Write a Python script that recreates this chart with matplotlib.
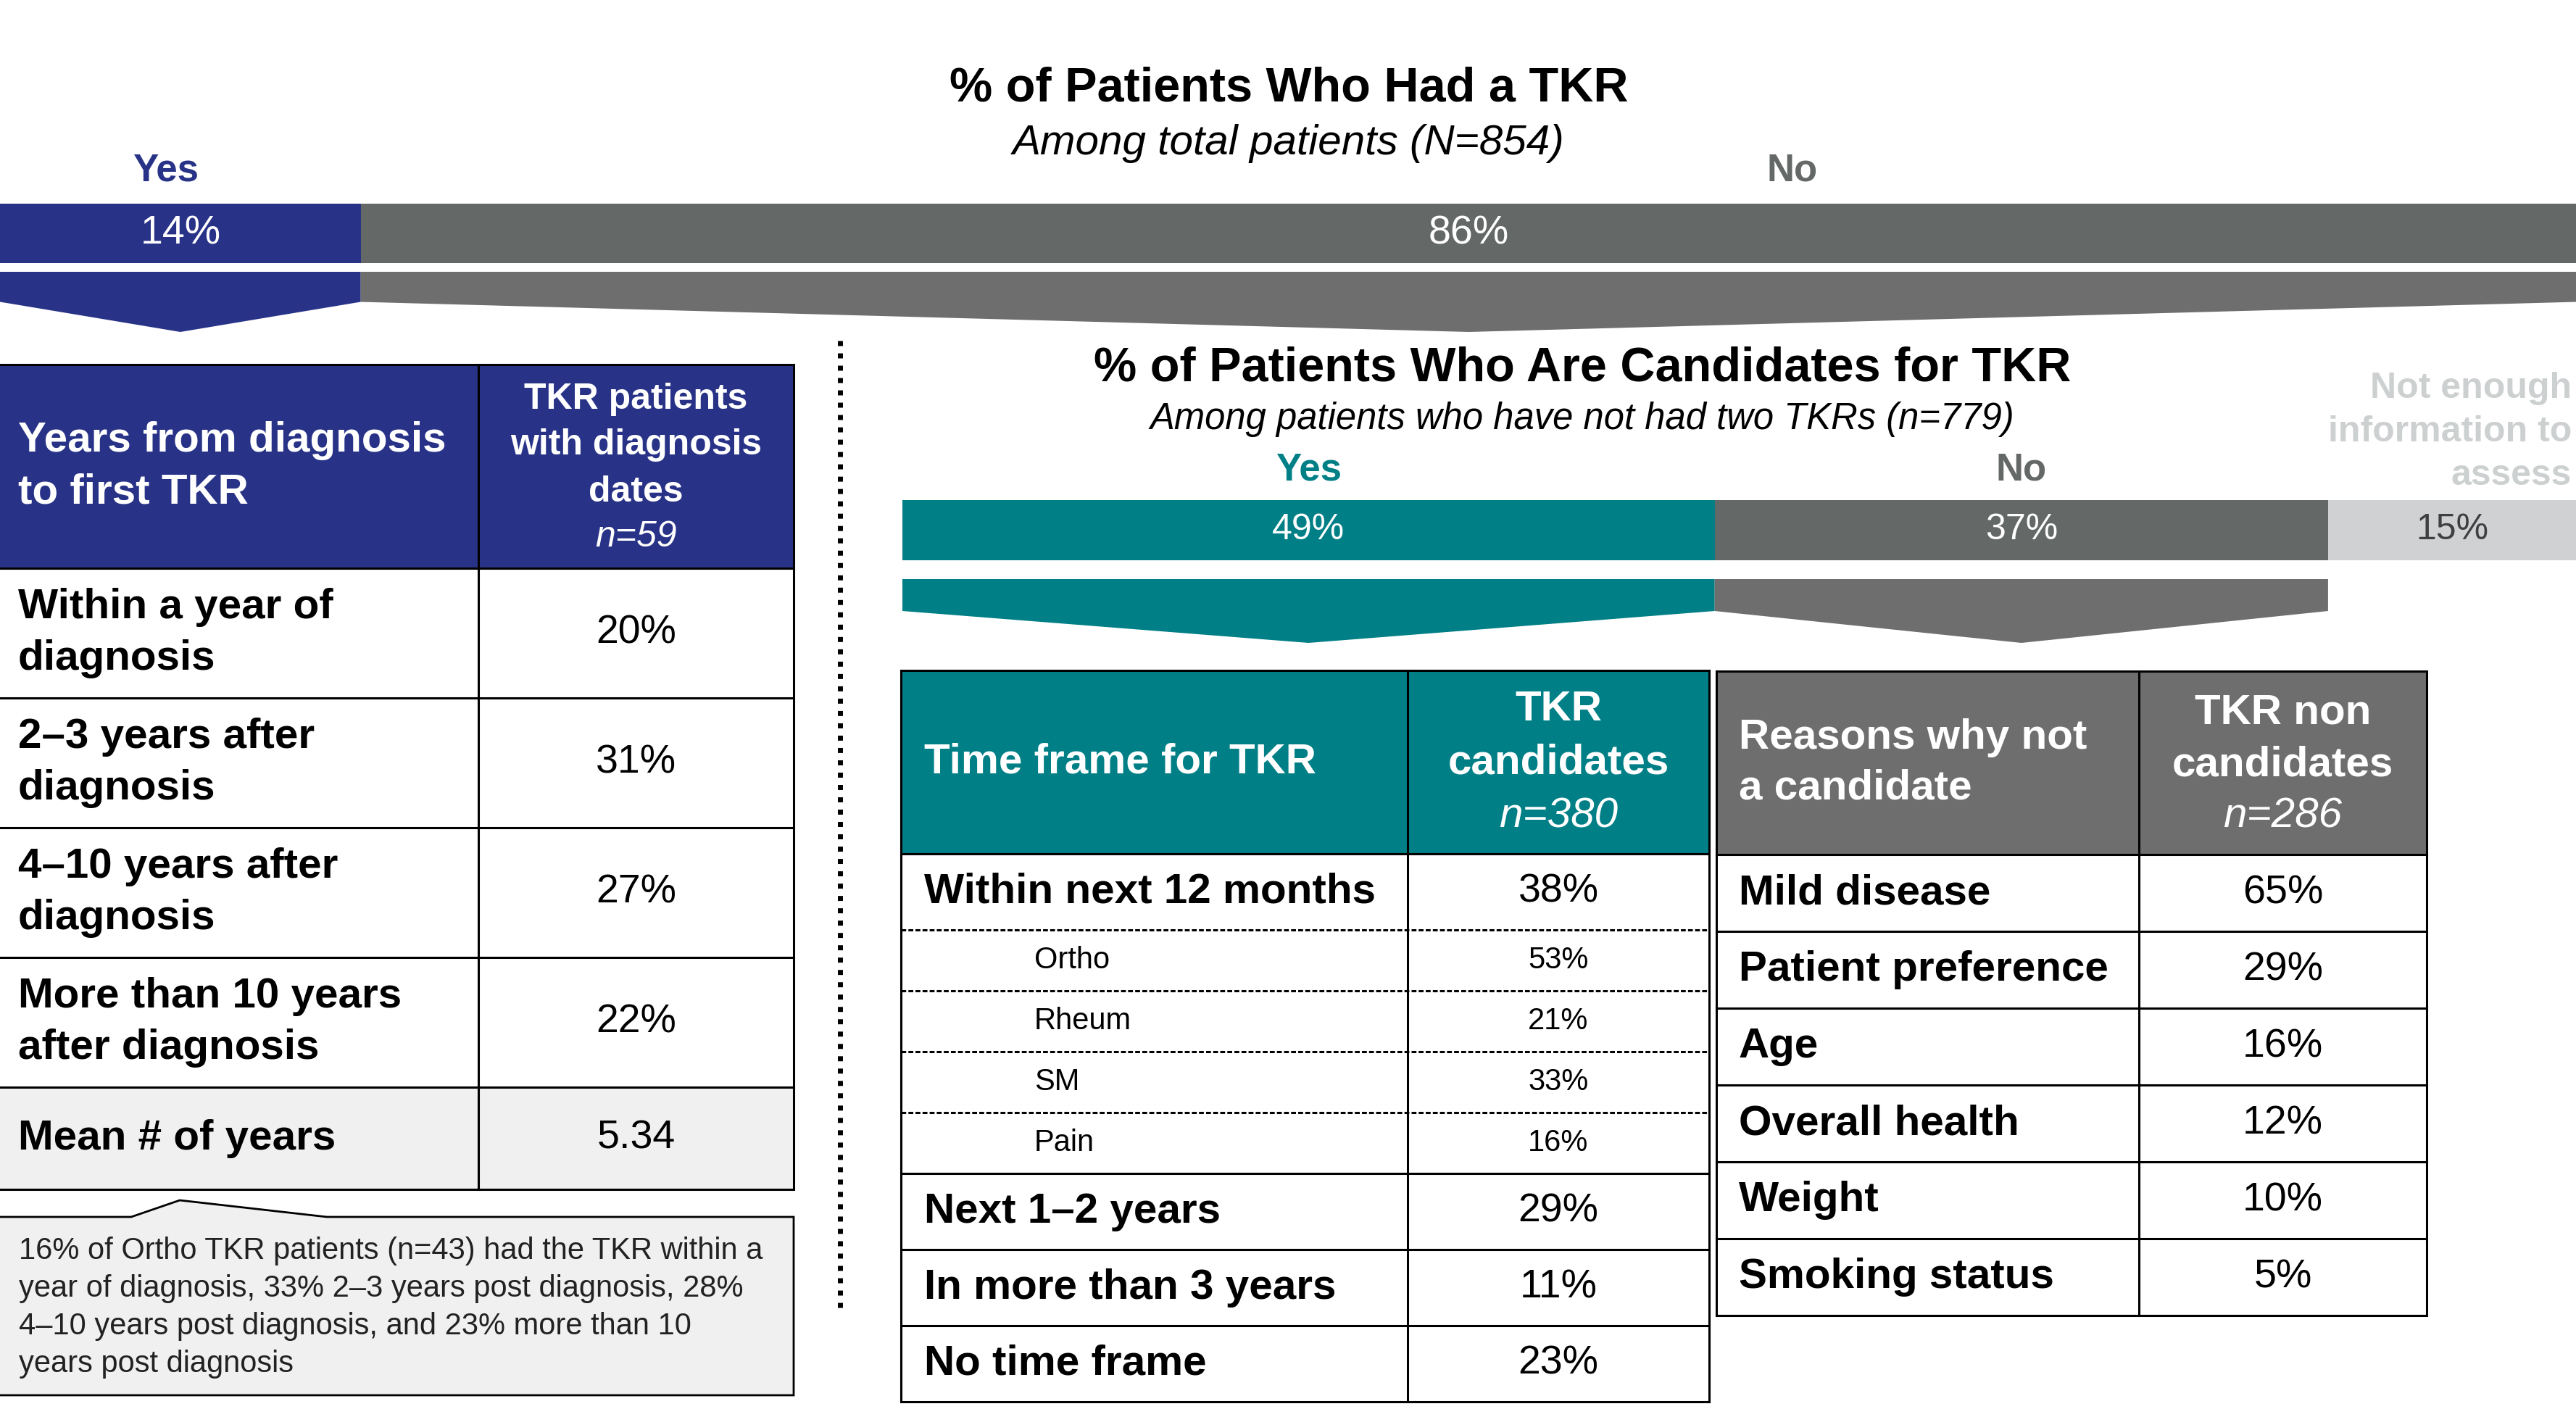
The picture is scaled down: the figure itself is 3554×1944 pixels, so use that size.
import numpy as np
import matplotlib.pyplot as plt
from matplotlib.patches import Rectangle, Polygon

plt.rcParams['font.family'] = ['Liberation Sans', 'DejaVu Sans']

# data
tkr_labels = ['Yes', 'No']
tkr_pct = [14, 86]

cand_labels = ['Yes', 'No', 'Not enough\ninformation to\nassess']
cand_pct = [49, 37, 15]

years_labels = ['Within a year of\ndiagnosis', '2–3 years after\ndiagnosis',
                '4–10 years after\ndiagnosis', 'More than 10 years\nafter diagnosis']
years_pct = [20, 31, 27, 22]
mean_years = 5.34

timeframe_labels = ['Within next 12 months', 'Ortho', 'Rheum', 'SM', 'Pain',
                    'Next 1–2 years', 'In more than 3 years', 'No time frame']
timeframe_pct = [38, 53, 21, 33, 16, 29, 11, 23]
timeframe_sub = [False, True, True, True, True, False, False, False]

reason_labels = ['Mild disease', 'Patient preference', 'Age', 'Overall health',
                 'Weight', 'Smoking status']
reason_pct = [65, 29, 16, 12, 10, 5]

footnote = ('16% of Ortho TKR patients (n=43) had the TKR within a\n'
            'year of diagnosis, 33% 2–3 years post diagnosis, 28%\n'
            '4–10 years post diagnosis, and 23% more than 10\n'
            'years post diagnosis')

NAVY = '#283387'
GRAY = '#646968'
GRAY2 = '#6e6e6e'
TEAL = '#007f86'
LIGHT = '#cfd1d2'
PALE = '#f0f0f0'

W, H = 3555, 1944
fig = plt.figure(figsize=(W / 100, H / 100), dpi=100)
ax = fig.add_axes([0, 0, 1, 1])
ax.set_xlim(0, W)
ax.set_ylim(H, 0)
ax.axis('off')


def px_axes(x0, y0, x1, y1):
    a = fig.add_axes([x0 / W, 1 - y1 / H, (x1 - x0) / W, (y1 - y0) / H])
    a.axis('off')
    return a


def stacked_bar(x0, x1, y0, y1, vals, colors, txt_colors, size):
    a = px_axes(x0, y0, x1, y1)
    lefts = np.cumsum([0] + vals[:-1])
    a.barh(0, vals, left=lefts, height=1, color=colors)
    a.set_xlim(0, sum(vals))
    a.set_ylim(-0.5, 0.5)
    for l, v, tc in zip(lefts, vals, txt_colors):
        a.text(l + v / 2, 0, f'{v}%', ha='center', va='center', color=tc, fontsize=size)
    return a


def chevrons(x0, x1, y0, y1, vals, colors, n):
    a = px_axes(x0, y0, x1, y1)
    lefts = np.cumsum([0] + vals[:-1])
    for i in range(n):
        l, r = lefts[i], lefts[i] + vals[i]
        a.add_patch(Polygon([(l, 0), (r, 0), (r, 0.5), ((l + r) / 2, 1), (l, 0.5)],
                            closed=True, facecolor=colors[i], edgecolor='none'))
    a.set_xlim(0, sum(vals))
    a.set_ylim(1, 0)
    return a


# ---- top section
ax.text(1778, 122, '% of Patients Who Had a TKR', ha='center', va='center',
        fontsize=48, fontweight='bold')
ax.text(1778, 198, 'Among total patients (N=854)', ha='center', va='center',
        fontsize=42, style='italic')
ax.text(229, 236, tkr_labels[0], ha='center', va='center', fontsize=38,
        fontweight='bold', color=NAVY)
ax.text(2473, 236, tkr_labels[1], ha='center', va='center', fontsize=38,
        fontweight='bold', color=GRAY)
stacked_bar(0, W, 281, 363, tkr_pct, [NAVY, GRAY], ['white', 'white'], 40)
chevrons(0, W, 375, 458, tkr_pct, [NAVY, GRAY2], 2)

# ---- candidates section
ax.text(2183, 508, '% of Patients Who Are Candidates for TKR', ha='center',
        va='center', fontsize=48, fontweight='bold')
ax.text(2183, 578, 'Among patients who have not had two TKRs (n=779)', ha='center',
        va='center', fontsize=36.5, style='italic')
bx0 = 1245
bar2 = stacked_bar(bx0, W, 690, 773, cand_pct, [TEAL, GRAY, LIGHT],
                   ['white', 'white', '#3f3f3f'], 36)
lefts2 = np.cumsum([0] + cand_pct[:-1])
for i, c in enumerate([TEAL, GRAY]):
    bar2.text(lefts2[i] + cand_pct[i] / 2, 1.0, cand_labels[i], ha='center',
              va='center', fontsize=38, fontweight='bold', color=c, clip_on=False)
ax.text(3548, 596, cand_labels[2], ha='right', va='center', multialignment='right',
        fontsize=36, fontweight='bold', color='#cdd0d0', linespacing=1.4)
chevrons(bx0, W, 799, 887, cand_pct, [TEAL, GRAY2], 2)

# dotted divider
ax.plot([1159, 1159], [470, 1813], color='black', lw=5, linestyle=(0, (1, 1.45)))

LW = 2.2

# ---- left table
lx = [0, 660, 1095]
ly = [503, 784] + list(784 + 179 * np.arange(1, 5)) + [1641]
ax.add_patch(Rectangle((lx[0], ly[0]), lx[2] - lx[0], ly[1] - ly[0], color=NAVY))
ax.add_patch(Rectangle((lx[0], ly[5]), lx[2] - lx[0], ly[6] - ly[5], color=PALE))
for y in ly:
    ax.plot([lx[0], lx[2]], [y, y], color='black', lw=LW)
for x in lx[1:]:
    ax.plot([x, x], [ly[0], ly[-1]], color='black', lw=LW)
ax.text(25, (ly[0] + ly[1]) / 2, 'Years from diagnosis\nto first TKR', ha='left',
        va='center', fontsize=42, fontweight='bold', color='white', linespacing=1.42)
cx = (lx[1] + lx[2]) / 2
for y, t in zip([551, 614, 679], ['TKR patients', 'with diagnosis', 'dates']):
    ax.text(cx, y, t, ha='center', va='center', fontsize=36, fontweight='bold', color='white')
ax.text(cx, 741, 'n=59', ha='center', va='center', fontsize=36, style='italic', color='white')
for i, (lab, v) in enumerate(zip(years_labels, years_pct)):
    yc = (ly[i + 1] + ly[i + 2]) / 2
    ax.text(25, yc, lab, ha='left', va='center', fontsize=42, fontweight='bold',
            linespacing=1.42)
    ax.text(cx, yc, f'{v}%', ha='center', va='center', fontsize=40)
yc = (ly[5] + ly[6]) / 2
ax.text(25, yc, 'Mean # of years', ha='left', va='center', fontsize=42, fontweight='bold')
ax.text(cx, yc, f'{mean_years:.2f}', ha='center', va='center', fontsize=40)

# footnote callout
ax.add_patch(Polygon([(-5, 1679), (181, 1679), (248, 1656), (451, 1679), (1095, 1679),
                      (1095, 1925), (-5, 1925)], closed=True, facecolor=PALE,
                     edgecolor='black', lw=2))
ax.text(26, 1804, footnote, ha='left', va='center', fontsize=30, color='#222222',
        linespacing=1.39)

# ---- middle table
mx = [1243, 1942, 2358]
heights = [84 if s else 105 for s in timeframe_sub]
my = [925, 1178] + list(1178 + np.cumsum(heights))
ax.add_patch(Rectangle((mx[0], my[0]), mx[2] - mx[0], my[1] - my[0], color=TEAL))
ax.plot([mx[0], mx[2]], [my[0], my[0]], color='black', lw=LW)
ax.plot([mx[0], mx[2]], [my[1], my[1]], color='black', lw=LW)
for i in range(len(timeframe_labels)):
    nxt_sub = i + 1 < len(timeframe_sub) and timeframe_sub[i + 1]
    ax.plot([mx[0], mx[2]], [my[i + 2], my[i + 2]], color='black',
            lw=2.2, linestyle=(0, (2.2, 1)) if nxt_sub else '-')
for x in mx:
    ax.plot([x, x], [my[0], my[-1]], color='black', lw=LW)
ax.text(1275, (my[0] + my[1]) / 2, 'Time frame for TKR', ha='left', va='center',
        fontsize=42, fontweight='bold', color='white')
cx = (mx[1] + mx[2]) / 2
ax.text(cx, 979, 'TKR', ha='center', va='center', fontsize=42, fontweight='bold', color='white')
ax.text(cx, 1052, 'candidates', ha='center', va='center', fontsize=42, fontweight='bold',
        color='white')
ax.text(cx, 1126, 'n=380', ha='center', va='center', fontsize=42, style='italic', color='white')
for i, (lab, v, s) in enumerate(zip(timeframe_labels, timeframe_pct, timeframe_sub)):
    yc = (my[i + 1] + my[i + 2]) / 2
    if s:
        ax.text(1427, yc, lab, ha='left', va='center', fontsize=30)
        ax.text(cx, yc, f'{v}%', ha='center', va='center', fontsize=30)
    else:
        ax.text(1275, yc, lab, ha='left', va='center', fontsize=42, fontweight='bold')
        ax.text(cx, yc, f'{v}%', ha='center', va='center', fontsize=40)

# ---- right table
rx = [2368, 2951, 3348]
ry = [926, 1179] + list(1179 + 106 * np.arange(1, len(reason_labels) + 1))
ax.add_patch(Rectangle((rx[0], ry[0]), rx[2] - rx[0], ry[1] - ry[0], color=GRAY2))
for y in ry:
    ax.plot([rx[0], rx[2]], [y, y], color='black', lw=LW)
for x in rx:
    ax.plot([x, x], [ry[0], ry[-1]], color='black', lw=LW)
ax.text(2399, (ry[0] + ry[1]) / 2, 'Reasons why not\na candidate', ha='left',
        va='center', fontsize=42, fontweight='bold', color='white', linespacing=1.38)
cx = (rx[1] + rx[2]) / 2
ax.text(cx, 983, 'TKR non', ha='center', va='center', fontsize=42, fontweight='bold',
        color='white')
ax.text(cx, 1055, 'candidates', ha='center', va='center', fontsize=42, fontweight='bold',
        color='white')
ax.text(cx, 1126, 'n=286', ha='center', va='center', fontsize=42, style='italic', color='white')
for i, (lab, v) in enumerate(zip(reason_labels, reason_pct)):
    yc = (ry[i + 1] + ry[i + 2]) / 2
    ax.text(2399, yc, lab, ha='left', va='center', fontsize=42, fontweight='bold')
    ax.text(cx, yc, f'{v}%', ha='center', va='center', fontsize=40)

fig.savefig('out.png', dpi=100, facecolor='white')
